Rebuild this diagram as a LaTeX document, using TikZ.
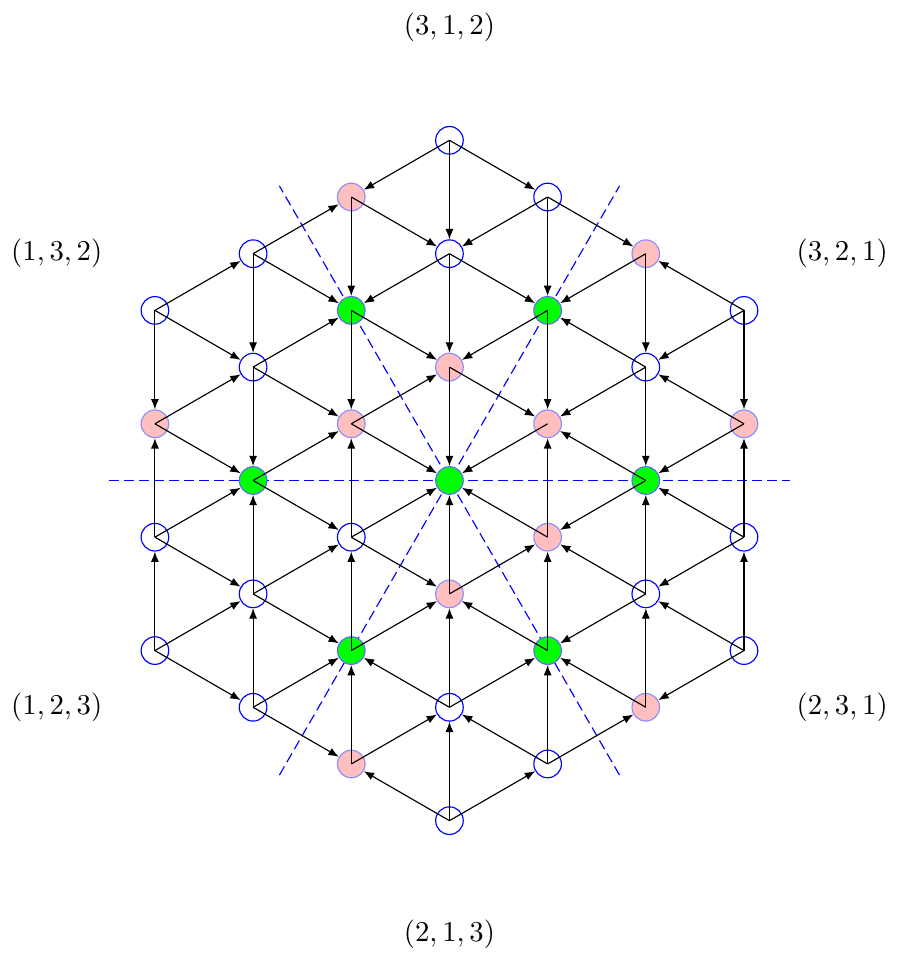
\documentclass[tikz,border=0pt]{standalone}
\usepackage{amsmath,amssymb}
\usepackage{tikz}
\usetikzlibrary{arrows.meta}

\begin{document}
\begin{tikzpicture}[x=1.2cm, y=0.693cm,
    state/.style={circle, draw=blue, minimum size=9.6pt, inner sep=0pt},
    pinkstate/.style={state, draw=blue!45, fill=red!25},
    greenstate/.style={state, draw=blue!60, fill=green},
    flow/.style={-{Latex[length=3.6pt,width=2.8pt]}},
    mirror/.style={blue, dash pattern=on 3.5pt off 1.7pt}]

    \useasboundingbox (-4.578,-8.475) rectangle (4.578,8.475);

    % Mirror lines
    \draw[mirror] (-3.464,0) -- (3.464,0);
    \draw[mirror] (-1.732,-5.196) -- (1.732,5.196);
    \draw[mirror] (1.732,-5.196) -- (-1.732,5.196);

    % States
    \foreach \x/\y in {-3/3, -3/-1, -3/-3, -2/4, -2/2, -2/-2, -2/-4, -1/-1,
        0/6, 0/4, 0/-4, 0/-6, 1/5, 1/-5, 2/2, 2/-2, 3/3, 3/-1, 3/-3}
        \node[state] (p\x k\y) at (\x,\y) {};
    \foreach \x/\y in {-3/1, -1/5, -1/1, -1/-5, 0/2, 0/-2, 1/1, 1/-1, 2/4, 2/-4, 3/1}
        \node[pinkstate] (p\x k\y) at (\x,\y) {};
    \foreach \x/\y in {-2/0, -1/3, -1/-3, 0/0, 1/3, 1/-3, 2/0}
        \node[greenstate] (p\x k\y) at (\x,\y) {};

    % Vertical moves
    \foreach \a/\b in {-3k3/-3k1, -3k-1/-3k1, -3k-3/-3k-1,
        -2k4/-2k2, -2k2/-2k0, -2k-2/-2k0, -2k-4/-2k-2,
        -1k5/-1k3, -1k3/-1k1, -1k-1/-1k1, -1k-3/-1k-1, -1k-5/-1k-3,
        0k6/0k4, 0k4/0k2, 0k2/0k0, 0k-2/0k0, 0k-4/0k-2, 0k-6/0k-4,
        1k5/1k3, 1k3/1k1, 1k-1/1k1, 1k-3/1k-1, 1k-5/1k-3,
        2k4/2k2, 2k2/2k0, 2k-2/2k0, 2k-4/2k-2,
        3k3/3k1, 3k-1/3k1, 3k-3/3k-1}
        \draw[flow] (p\a.center) -- (p\b);

    % Diagonal moves
    \foreach \a/\b in {-3k3/-2k4, -3k3/-2k2, -3k1/-2k2, -3k1/-2k0,
        -3k-1/-2k0, -3k-1/-2k-2, -3k-3/-2k-2, -3k-3/-2k-4,
        -2k4/-1k5, -2k4/-1k3, -2k2/-1k3, -2k2/-1k1, -2k0/-1k1,
        -2k0/-1k-1, -2k-2/-1k-1, -2k-2/-1k-3, -2k-4/-1k-3, -2k-4/-1k-5,
        0k6/-1k5, -1k5/0k4, 0k4/-1k3, -1k3/0k2, -1k1/0k2, -1k1/0k0,
        -1k-1/0k0, -1k-1/0k-2, -1k-3/0k-2, 0k-4/-1k-3, -1k-5/0k-4, 0k-6/-1k-5,
        0k6/1k5, 1k5/0k4, 0k4/1k3, 1k3/0k2, 0k2/1k1, 1k1/0k0,
        1k-1/0k0, 0k-2/1k-1, 1k-3/0k-2, 0k-4/1k-3, 1k-5/0k-4, 0k-6/1k-5,
        1k5/2k4, 2k4/1k3, 2k2/1k3, 2k2/1k1, 2k0/1k1,
        2k0/1k-1, 2k-2/1k-1, 2k-2/1k-3, 2k-4/1k-3, 1k-5/2k-4,
        3k3/2k4, 3k3/2k2, 3k1/2k2, 3k1/2k0,
        3k-1/2k0, 3k-1/2k-2, 3k-3/2k-2, 3k-3/2k-4}
        \draw[flow] (p\a.center) -- (p\b);

    % Orderings
    \node (l312) at (0,8) {$(3,1,2)$};
    \node (l132) at (-4,4) {$(1,3,2)$};
    \node (l321) at (4,4) {$(3,2,1)$};
    \node (l123) at (-4,-4) {$(1,2,3)$};
    \node (l231) at (4,-4) {$(2,3,1)$};
    \node (l213) at (0,-8) {$(2,1,3)$};

\end{tikzpicture}
\end{document}
